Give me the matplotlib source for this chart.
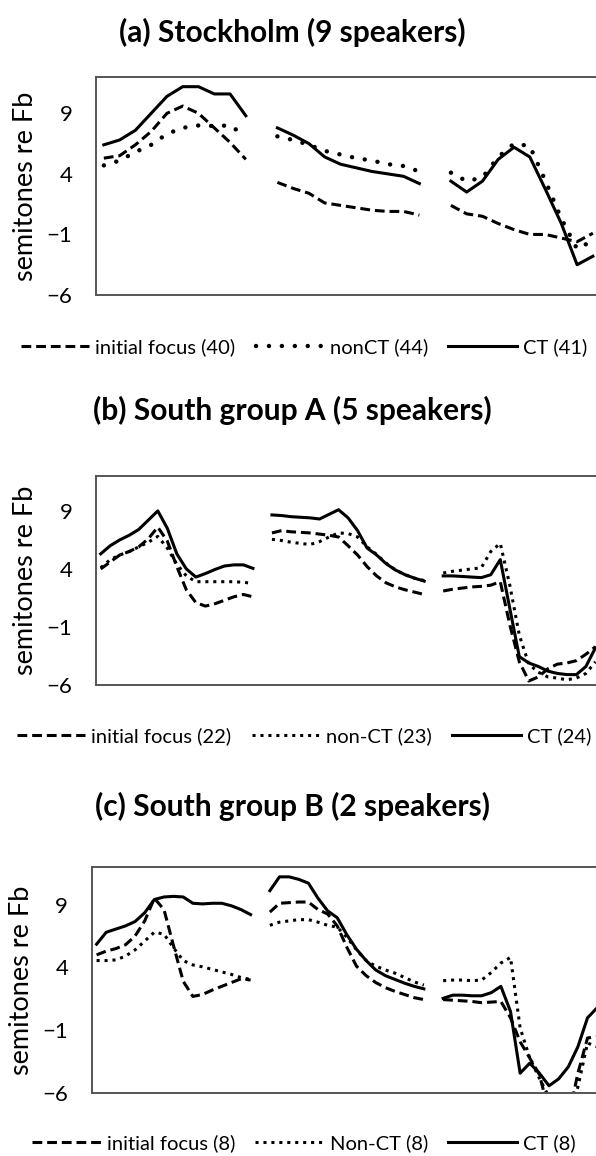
import numpy as np
import matplotlib
matplotlib.use('Agg')
from matplotlib import pyplot as plt

plt.rcParams['font.family'] = ['Lato', 'DejaVu Sans']

nan = np.nan

# (a) Stockholm: 3 parts of 10 points, one empty category between parts
a_focus = [5.3, 5.5, 6.4, 7.5, 9.0, 9.6, 9.0, 7.8, 6.6, 5.2, nan,
           3.3, 2.8, 2.4, 1.6, 1.4, 1.2, 1.0, 0.9, 0.9, 0.6, nan,
           1.4, 0.7, 0.5, -0.1, -0.6, -1.0, -1.0, -1.3, -1.6, -0.9]
a_noncT = [4.7, 5.1, 5.8, 6.4, 7.3, 7.8, 8.0, 7.95, 8.0, 7.1, nan,
           7.1, 6.8, 6.4, 5.9, 5.6, 5.3, 5.1, 4.8, 4.65, 4.2, nan,
           4.1, 3.4, 3.7, 5.4, 6.5, 6.3, 3.4, 0.3, -2.2, -1.5]
a_ct = [6.4, 6.8, 7.6, 9.0, 10.4, 11.2, 11.2, 10.6, 10.6, 8.8, nan,
        7.8, 7.2, 6.5, 5.4, 4.8, 4.5, 4.2, 4.0, 3.8, 3.2, nan,
        3.4, 2.5, 3.4, 5.2, 6.2, 5.4, 2.7, -0.1, -3.5, -2.8]

# (b) South group A: 3 parts of 17 points
b_focus = [4.0, 4.6, 5.2, 5.5, 5.9, 6.6, 7.6, 6.4, 4.2, 2.2, 1.1, 0.8, 1.0, 1.3, 1.6, 1.8, 1.6, nan,
           7.1, 7.3, 7.2, 7.15, 7.1, 7.0, 6.9, 6.75, 6.0, 5.2, 4.2, 3.4, 2.8, 2.45, 2.2, 2.0, 1.8, nan,
           2.1, 2.25, 2.35, 2.45, 2.5, 2.6, 2.9, -0.8, -4.0, -5.65, -5.3, -4.6, -4.2, -4.1, -3.9, -3.35, -2.7]
b_noncT = [4.1, 4.8, 5.2, 5.5, 5.9, 6.3, 6.8, 5.8, 4.4, 3.4, 2.9, 2.9, 2.9, 2.9, 2.9, 2.85, 2.75, nan,
           6.55, 6.45, 6.3, 6.2, 6.1, 6.35, 6.75, 7.1, 7.05, 6.75, 5.9, 5.25, 4.5, 3.9, 3.5, 3.2, 3.0, nan,
           3.65, 3.8, 3.9, 4.0, 4.1, 5.5, 6.2, 2.6, -1.7, -4.2, -4.9, -5.3, -5.4, -5.55, -5.4, -5.0, -4.0]
b_ct = [5.3, 6.0, 6.5, 6.9, 7.4, 8.2, 9.0, 7.5, 5.3, 4.0, 3.3, 3.6, 3.95, 4.25, 4.35, 4.35, 4.05, nan,
        8.65, 8.6, 8.5, 8.45, 8.4, 8.3, 8.7, 9.1, 8.4, 7.3, 5.8, 5.2, 4.45, 3.9, 3.5, 3.2, 2.95, nan,
        3.4, 3.4, 3.35, 3.3, 3.25, 3.5, 4.8, 0.6, -3.55, -4.1, -4.4, -4.8, -5.0, -5.1, -5.1, -4.4, -2.8]

# (c) South group B: 3 parts of 17 points
c_focus = [5.0, 5.3, 5.5, 5.8, 6.5, 7.7, 9.5, 8.6, 5.7, 2.9, 1.7, 1.85, 2.2, 2.5, 2.8, 3.1, 3.0, nan,
           8.4, 9.1, 9.15, 9.2, 9.2, 8.6, 8.25, 7.3, 5.6, 4.1, 3.35, 2.8, 2.4, 2.1, 1.85, 1.6, 1.45, nan,
           1.45, 1.4, 1.35, 1.3, 1.2, 1.25, 1.3, 0.0, -1.9, -3.2, -4.5, -7.5, -9.0, -8.0, -4.4, -1.6, -1.5]
c_noncT = [4.55, 4.55, 4.6, 4.9, 5.4, 6.1, 6.8, 6.65, 5.55, 4.55, 4.2, 4.05, 3.85, 3.65, 3.45, 3.2, 3.05, nan,
           7.35, 7.6, 7.7, 7.8, 7.8, 7.6, 7.35, 7.2, 6.4, 5.4, 4.55, 4.1, 3.8, 3.55, 3.2, 2.85, 2.6, nan,
           2.95, 3.0, 3.0, 2.95, 3.0, 3.6, 4.35, 4.8, -0.8, -3.2, -4.8, -6.3, -8.0, -8.0, -5.5, -2.0, -2.3]
c_ct = [5.85, 6.8, 7.05, 7.3, 7.65, 8.35, 9.4, 9.6, 9.65, 9.6, 9.1, 9.05, 9.1, 9.1, 8.9, 8.6, 8.2, nan,
        10.1, 11.2, 11.2, 11.0, 10.7, 9.5, 8.5, 7.95, 6.6, 5.45, 4.55, 3.8, 3.35, 3.05, 2.75, 2.5, 2.3, nan,
        1.55, 1.8, 1.8, 1.75, 1.75, 2.0, 2.5, 0.5, -4.4, -3.6, -4.4, -5.4, -4.85, -3.9, -2.3, 0.0, 0.8]

titles = ['(a) Stockholm (9 speakers)', '(b) South group A (5 speakers)', '(c) South group B (2 speakers)']
labels_a = ['initial focus (40)', 'nonCT (44)', 'CT (41)']
labels_b = ['initial focus (22)', 'non-CT (23)', 'CT (24)']
labels_c = ['initial focus (8)', 'Non-CT (8)', 'CT (8)']
yticks = [-6, -1, 4, 9]

fig = plt.figure(figsize=(5.96, 11.56), dpi=100)

dash = (0, (3.2, 1.6))
small_dots = (0, (1.0, 1.6))

panels = [
    # data, labels, round dots?, axes rect, title y, legend y
    ([a_focus, a_noncT, a_ct], labels_a, True, [0.161, 0.7448, 0.847, 0.1886], 0.972, 0.700),
    ([b_focus, b_noncT, b_ct], labels_b, False, [0.161, 0.4074, 0.846, 0.1808], 0.645, 0.3635),
    ([c_focus, c_noncT, c_ct], labels_c, False, [0.154, 0.0542, 0.856, 0.196], 0.302, 0.0115),
]

for title, (data, labels, round_dots, rect, ty, ly) in zip(titles, panels):
    ax = fig.add_axes(rect)
    x = np.arange(len(data[0]))
    lw = 2.2
    l1, = ax.plot(x, data[0], color='k', lw=lw, linestyle=dash, dash_capstyle='butt')
    if round_dots:
        l2, = ax.plot(x, data[1], color='k', lw=3.2, linestyle=(0, (0.01, 2.9)),
                      dash_capstyle='round')
    else:
        l2, = ax.plot(x, data[1], color='k', lw=lw, linestyle=small_dots, dash_capstyle='butt')
    l3, = ax.plot(x, data[2], color='k', lw=lw)
    ax.set_xlim(-0.5, len(x) - 0.5)
    ax.set_ylim(-6, 12)
    ax.set_yticks(yticks)
    ax.set_xticks([])
    ax.tick_params(axis='y', length=0, pad=17, labelsize=16)
    ax.set_ylabel('semitones re Fb', fontsize=19.5, labelpad=6)
    for s in ['left', 'bottom', 'top', 'right']:
        ax.spines[s].set_color('#555555')
        ax.spines[s].set_linewidth(1.4)
    fig.text(0.49, ty, title, ha='center', va='center', fontsize=21.5, fontweight='bold')
    fig.legend([l1, l2, l3], labels, loc='center', bbox_to_anchor=(0.51, ly), ncol=3,
               frameon=False, fontsize=14.5, handlelength=3.4, handletextpad=0.3,
               columnspacing=1.0, borderpad=0.1)

fig.savefig('out.png', dpi=100)
